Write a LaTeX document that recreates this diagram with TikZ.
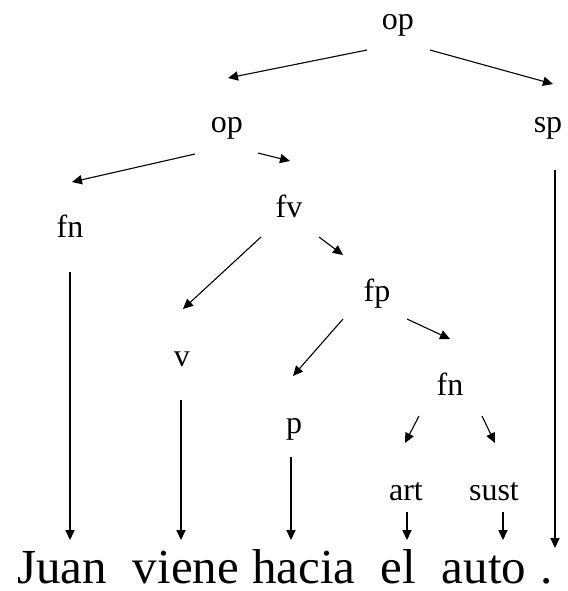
\documentclass[tikz,border=0pt]{standalone}
\usepackage{fontspec}
\setmainfont{Liberation Serif}
\usetikzlibrary{arrows.meta}

\begin{document}
\begin{tikzpicture}[
  x=0.5pt, y=-0.5pt,
  cat/.style={anchor=base, font=\fontsize{16}{19}\selectfont},
  word/.style={anchor=base, font=\fontsize{24.5}{29}\selectfont},
  arr/.style={-{Triangle[length=5pt,width=4.6pt]}, line width=0.55pt, black}
]
\useasboundingbox (0,0) rectangle (568,591);

% Categories
\node[cat] (opA) at (398,29) {op};
\node[cat] (opB) at (227,132) {op};
\node[cat] (sp) at (548,132) {sp};
\node[cat] (fnA) at (70,237) {fn};
\node[cat] (fv) at (289,217) {fv};
\node[cat] (fp) at (377,301) {fp};
\node[cat] (v) at (182,366) {v};
\node[cat] (p) at (294,433) {p};
\node[cat] (fnB) at (450,395) {fn};
\node[cat] (art) at (406,500) {art};
\node[cat] (sust) at (494,500) {sust};

% Sentence
\node[word] (wJuan) at (62,583) {Juan};
\node[word] (wviene) at (186,583) {viene};
\node[word] (whacia) at (304,583) {hacia};
\node[word] (wel) at (398,583) {el};
\node[word] (wauto) at (484,583) {auto};
\node[word] (wdot) at (547,583) {.};

% Branches
\foreach \a/\sa/\b/\sb in {
  opA/{(-31,21)}/opB/{(1,-54)},
  opA/{(32,21)}/sp/{(5,-48)},
  opB/{(-32,22)}/fnA/{(2,-55)},
  opB/{(31,21)}/fv/{(1,-56)},
  fv/{(-28,20)}/v/{(1,-57)},
  fv/{(30,20)}/fp/{(-34,-46)},
  fp/{(-34,18)}/p/{(-1,-57)},
  fp/{(30,18)}/fnB/{(0,-56)},
  fnB/{(-31,21)}/art/{(-1,-57)},
  fnB/{(32,21)}/sust/{(1,-57)},
  fnA/{(0,35)}/wJuan/{(8,-43)},
  v/{(-1,34)}/wviene/{(-5,-43)},
  p/{(-3,24)}/whacia/{(-13,-43)},
  art/{(1,12)}/wel/{(9,-43)},
  sust/{(9,12)}/wauto/{(19,-43)},
  sp/{(7,38)}/wdot/{(8,-35)}}
  \draw[arr] ([shift={\sa}]\a.base) -- ([shift={\sb}]\b.base);

\end{tikzpicture}
\end{document}
